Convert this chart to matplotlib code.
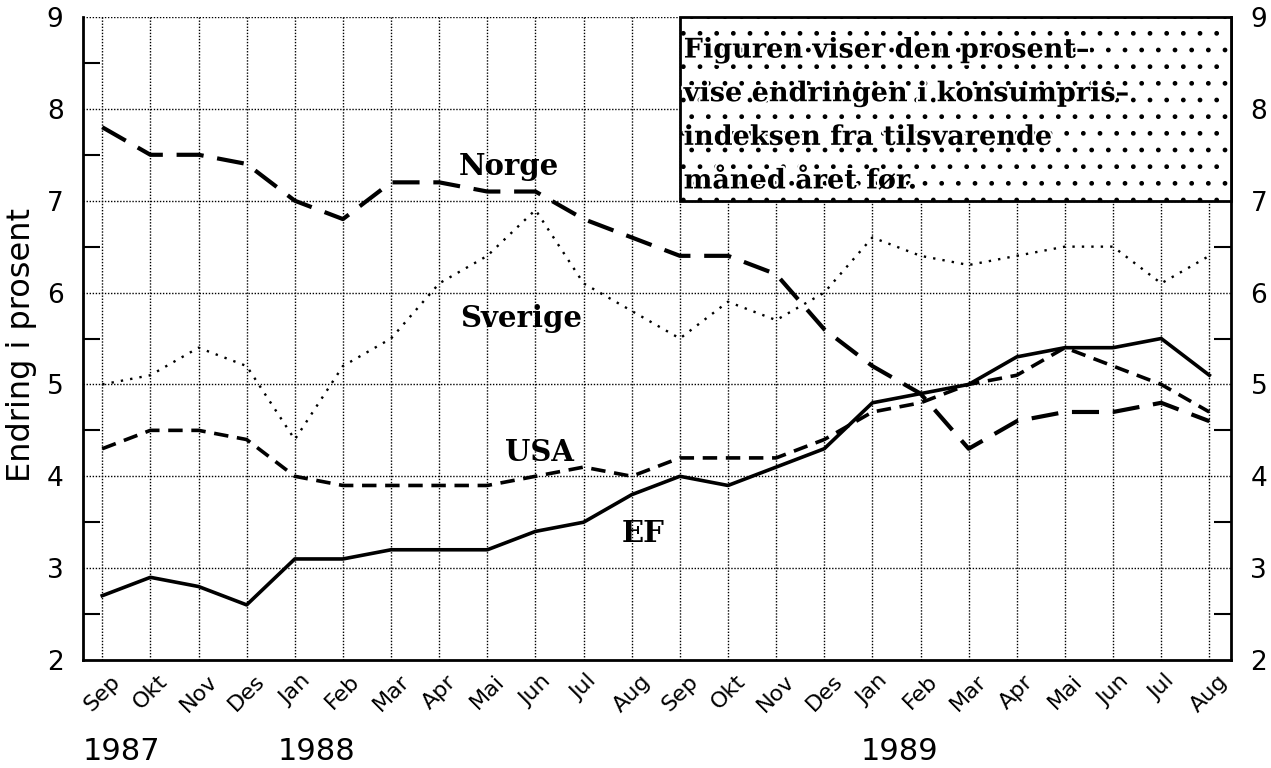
import numpy as np
import matplotlib
matplotlib.use("Agg")
import matplotlib.pyplot as plt
from matplotlib.patches import Rectangle
import matplotlib.transforms as mtransforms
import matplotlib.patheffects as pe

# months Sep 1987 - Aug 1989
months = ["Sep", "Okt", "Nov", "Des", "Jan", "Feb", "Mar", "Apr", "Mai", "Jun", "Jul", "Aug",
          "Sep", "Okt", "Nov", "Des", "Jan", "Feb", "Mar", "Apr", "Mai", "Jun", "Jul", "Aug"]
years = ["1987", "1988", "1989"]
year_pos = [0.41, 4.46, 16.56]

norge = [7.8, 7.5, 7.5, 7.4, 7.0, 6.8, 7.2, 7.2, 7.1, 7.1, 6.8, 6.6,
         6.4, 6.4, 6.2, 5.6, 5.2, 4.9, 4.3, 4.6, 4.7, 4.7, 4.8, 4.6]
sverige = [5.0, 5.1, 5.4, 5.2, 4.4, 5.2, 5.5, 6.1, 6.4, 6.9, 6.1, 5.8,
           5.5, 5.9, 5.7, 6.0, 6.6, 6.4, 6.3, 6.4, 6.5, 6.5, 6.1, 6.4]
usa = [4.3, 4.5, 4.5, 4.4, 4.0, 3.9, 3.9, 3.9, 3.9, 4.0, 4.1, 4.0,
       4.2, 4.2, 4.2, 4.4, 4.7, 4.8, 5.0, 5.1, 5.4, 5.2, 5.0, 4.7]
ef = [2.7, 2.9, 2.8, 2.6, 3.1, 3.1, 3.2, 3.2, 3.2, 3.4, 3.5, 3.8,
      4.0, 3.9, 4.1, 4.3, 4.8, 4.9, 5.0, 5.3, 5.4, 5.4, 5.5, 5.1]

# series name labels drawn in the plot: (text, x, y)
series_labels = [("Norge", 8.44, 7.37), ("Sverige", 8.7, 5.72),
                 ("USA", 9.09, 4.26), ("EF", 11.24, 3.38)]

note_lines = ["Figuren viser den prosent\u2013",
              "vise endringen i konsumpris\u2013",
              "indeksen fra tilsvarende",
              "m\u00e5ned \u00e5ret f\u00f8r."]

x = np.arange(len(months))

fig = plt.figure(figsize=(12.71, 7.68), dpi=100)
ax = fig.add_axes([83 / 1271, 1 - 660 / 768, (1231 - 83) / 1271, (660 - 17) / 768])

ax.set_xlim(-0.4, 23.45)
ax.set_ylim(2, 9)

# grid
for xi in x:
    ax.axvline(xi, color="black", lw=1.0, ls=(0, (1, 1.2)), zorder=1)
for yi in range(3, 10):
    ax.axhline(yi, color="black", lw=1.0, ls=(0, (1, 1.2)), zorder=1)

ax.plot(x, sverige, color="black", lw=1.7, ls=(0, (1, 3.0)), zorder=3)
ax.plot(x, norge, color="black", lw=3.0, ls=(0, (6.5, 3.3)), zorder=3)
ax.plot(x, usa, color="black", lw=2.6, ls=(0, (4, 2.4)), zorder=3)
ax.plot(x, ef, color="black", lw=2.6, ls="-", zorder=3)

for txt, tx, ty in series_labels:
    ax.text(tx, ty, txt, family="DejaVu Serif", weight="bold", fontsize=21,
            ha="center", va="center", zorder=4)

# note box in upper right
box = Rectangle((12, 7), 23.45 - 12, 2, facecolor="white", edgecolor="black",
                hatch=".", lw=2, zorder=5, clip_on=False)
ax.add_patch(box)
for i, line in enumerate(note_lines):
    ax.text(12.08, 8.64 - i * 0.475, line, family="DejaVu Serif", weight="bold",
            fontsize=19.5, ha="left", va="center", zorder=6,
            path_effects=[pe.withStroke(linewidth=3, foreground="white")])

# spines and ticks
ax.spines["top"].set_visible(False)
for s in ["left", "right", "bottom"]:
    ax.spines[s].set_linewidth(2)

ax.set_yticks(range(2, 10))
ax.set_yticks(np.arange(2.5, 9, 1), minor=True)
ax.tick_params(axis="y", which="major", left=True, right=True, labelleft=True,
               labelright=True, length=0, pad=14, labelsize=19)
ax.tick_params(axis="y", which="minor", left=True, right=True, direction="in",
               length=12, width=1.5)
ax.set_xticks(x)
ax.set_xticklabels(months, rotation=45, ha="center", va="top")
ax.tick_params(axis="x", length=0, pad=8, labelsize=16)

ax.set_ylabel("Endring i prosent", fontsize=23)
ax.yaxis.set_label_coords(-0.040, 0.49)

trans = mtransforms.blended_transform_factory(ax.transData, ax.transAxes)
for yr, xp in zip(years, year_pos):
    ax.text(xp, -0.143, yr, transform=trans, fontsize=22, ha="center", va="center")

fig.savefig("out.png", dpi=100)
